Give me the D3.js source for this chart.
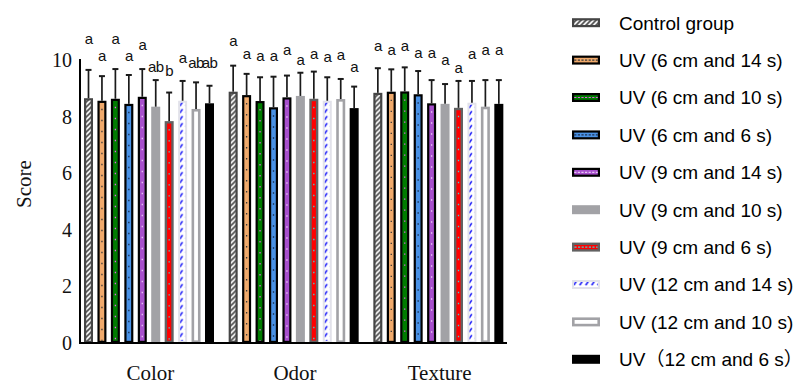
<!DOCTYPE html>
<html>
<head>
<meta charset="utf-8">
<script src="https://cdn.jsdelivr.net/npm/d3@7"></script>
<style>
  html, body { margin: 0; padding: 0; background: #fff; }
  svg { display: block; }
</style>
</head>
<body>
<svg id="chart" width="800" height="383"></svg>
<script>
// ---------------- data ----------------
const categories = ["Color", "Odor", "Texture"];
const seriesNames = [
  "Control group",
  "UV (6 cm and 14 s)",
  "UV (6 cm and 10 s)",
  "UV (6 cm and 6 s)",
  "UV (9 cm and 14 s)",
  "UV (9 cm and 10 s)",
  "UV (9 cm and 6 s)",
  "UV (12 cm and 14 s)",
  "UV (12 cm and 10 s)",
  "UV\uFF0812 cm and 6 s\uFF09"
];
// mean scores per series: [Color, Odor, Texture]
const meanControl = [8.65, 8.88, 8.84];
const meanUV6_14  = [8.56, 8.76, 8.88];
const meanUV6_10  = [8.63, 8.55, 8.89];
const meanUV6_6   = [8.45, 8.33, 8.79];
const meanUV9_14  = [8.70, 8.68, 8.47];
const meanUV9_10  = [8.35, 8.73, 8.45];
const meanUV9_6   = [7.84, 8.63, 8.31];
const meanUV12_14 = [8.56, 8.56, 8.49];
const meanUV12_10 = [8.27, 8.62, 8.35];
const meanUV12_6  = [8.47, 8.30, 8.45];
// standard deviations per series
const sdControl = [1.00, 0.92, 0.87];
const sdUV6_14  = [0.87, 0.75, 0.79];
const sdUV6_10  = [1.05, 0.84, 0.85];
const sdUV6_6   = [1.02, 1.08, 0.82];
const sdUV9_14  = [0.98, 0.77, 0.82];
const sdUV9_10  = [0.94, 0.82, 0.70];
const sdUV9_6   = [1.01, 0.96, 0.95];
const sdUV12_14 = [0.70, 0.83, 0.77];
const sdUV12_10 = [0.94, 0.71, 0.94];
const sdUV12_6  = [0.62, 0.76, 0.84];
// significance letters per category (one per series)
const lettersColor   = ["a", "a", "a", "a", "a", "ab", "b", "a", "ab", "ab"];
const lettersOdor    = ["a", "a", "a", "a", "a", "a", "a", "a", "a", "a"];
const lettersTexture = ["a", "a", "a", "a", "a", "a", "a", "a", "a", "a"];
// letter heights in score units
const letterYColor   = [10.71, 10.14, 10.71, 10.14, 10.53, 9.72, 9.58, 10.07, 9.86, 9.86];
const letterYOdor    = [10.65, 10.20, 10.12, 10.14, 10.32, 9.98, 10.20, 10.10, 10.15, 9.73];
const letterYTexture = [10.49, 10.33, 10.49, 10.24, 10.24, 9.98, 9.69, 10.20, 10.33, 10.33];
const yTicks = [0, 2, 4, 6, 8, 10];
const yLabel = "Score";

const means = [meanControl, meanUV6_14, meanUV6_10, meanUV6_6, meanUV9_14,
               meanUV9_10, meanUV9_6, meanUV12_14, meanUV12_10, meanUV12_6];
const sds = [sdControl, sdUV6_14, sdUV6_10, sdUV6_6, sdUV9_14,
             sdUV9_10, sdUV9_6, sdUV12_14, sdUV12_10, sdUV12_6];
const letters = [lettersColor, lettersOdor, lettersTexture];
const letterY = [letterYColor, letterYOdor, letterYTexture];

// ---------------- styles ----------------
const styles = [
  { fill: "#ffffff", stroke: "#454545", hatch: "#454545", sw: 2.2 },
  { fill: "#F0AA6C", stroke: "#000000", dots: "#3a3a3a", sw: 2.2 },
  { fill: "#007C00", stroke: "#000000", dots: "#e060e0", sw: 2.2 },
  { fill: "#4A92E6", stroke: "#000000", dots: "#1b3050", sw: 2.2 },
  { fill: "#A74FCC", stroke: "#000000", dots: "#e8c8f4", sw: 2.2 },
  { fill: "#A2A2A6", stroke: "#A2A2A6", sw: 2.2 },
  { fill: "#FF0000", stroke: "#626262", dots: "#40d0d0", sw: 2.4 },
  { fill: "#FFFFFF", stroke: "#E2E2EA", dash: "#1818F8", sw: 2.0 },
  { fill: "#FFFFFF", stroke: "#A2A2A6", sw: 2.6 },
  { fill: "#000000", stroke: "#000000", sw: 2.0 }
];

// ---------------- layout ----------------
const svg = d3.select("#chart");
const defs = svg.append("defs");

const y = d3.scaleLinear().domain([0, 10]).range([343, 60]);
const x0 = d3.scaleBand().domain(categories).range([78, 512]).paddingInner(0).paddingOuter(0);
const gOff = 6;
const x1 = d3.scaleBand().domain(d3.range(seriesNames.length))
  .range([gOff, gOff + 130]).paddingInner(0.33).paddingOuter(0);

let pid = 0;
function hatchPattern(px, py, color, bg, kind) {
  const id = "p" + (pid++);
  const p = defs.append("pattern").attr("id", id)
    .attr("patternUnits", "userSpaceOnUse")
    .attr("x", px).attr("y", py);
  if (kind === "hatch") {
    p.attr("width", 5).attr("height", 5);
    p.append("rect").attr("width", 5).attr("height", 5).attr("fill", bg);
    p.append("path").attr("d", "M-1,1 l2,-2 M0,5 l5,-5 M4,6 l2,-2")
      .attr("stroke", color).attr("stroke-width", 1.6);
  } else {
    p.attr("width", 6).attr("height", 7);
    p.append("rect").attr("width", 6).attr("height", 7).attr("fill", bg);
    p.append("path").attr("d", "M1.2,5.2 L3.9,1.4")
      .attr("stroke", color).attr("stroke-width", 1.6);
  }
  return "url(#" + id + ")";
}

function drawBox(g, bx, by, bw, bh, s, vertical) {
  const sw = s.sw;
  let fill = s.fill;
  if (s.hatch) fill = hatchPattern(bx + sw / 2, by, s.hatch, "#ffffff", "hatch");
  if (s.dash) fill = hatchPattern(bx + sw / 2 - 0.5, by, s.dash, "#ffffff", "dash");
  g.append("rect")
    .attr("x", bx + sw / 2).attr("y", by + sw / 2)
    .attr("width", Math.max(0, bw - sw)).attr("height", Math.max(0, bh - sw))
    .attr("fill", fill).attr("stroke", s.stroke).attr("stroke-width", sw);
  if (s.dots) {
    if (vertical) {
      g.append("line")
        .attr("x1", bx + bw / 2).attr("x2", bx + bw / 2)
        .attr("y1", by + 8).attr("y2", by + bh - sw)
        .attr("stroke", s.dots).attr("stroke-width", 1.3)
        .attr("stroke-dasharray", "1.4 9.6");
    } else {
      g.append("line")
        .attr("x1", bx + sw).attr("x2", bx + bw - sw)
        .attr("y1", by + bh / 2).attr("y2", by + bh / 2)
        .attr("stroke", s.dots).attr("stroke-width", 1.2)
        .attr("stroke-dasharray", "2.2 1.4");
    }
  }
}

// ---------------- bars ----------------
const plot = svg.append("g");
categories.forEach((cat, ci) => {
  seriesNames.forEach((sn, si) => {
    const v = means[si][ci];
    const bx = x0(cat) + x1(si);
    const bw = x1.bandwidth();
    const g = plot.append("g");
    drawBox(g, bx, y(v), bw, y(0) - y(v), styles[si], true);
  });
});

// error bars (upper)
categories.forEach((cat, ci) => {
  seriesNames.forEach((sn, si) => {
    const v = means[si][ci], e = sds[si][ci];
    const cx = x0(cat) + x1(si) + x1.bandwidth() / 2;
    plot.append("line")
      .attr("x1", cx).attr("x2", cx)
      .attr("y1", y(v)).attr("y2", y(v + e))
      .attr("stroke", "#1a1a1a").attr("stroke-width", 1.7);
    plot.append("line")
      .attr("x1", cx - 3).attr("x2", cx + 3)
      .attr("y1", y(v + e)).attr("y2", y(v + e))
      .attr("stroke", "#1a1a1a").attr("stroke-width", 2);
  });
});

// letters
categories.forEach((cat, ci) => {
  seriesNames.forEach((sn, si) => {
    const cx = x0(cat) + x1(si) + x1.bandwidth() / 2;
    svg.append("text")
      .attr("x", cx).attr("y", y(letterY[ci][si]) + 4.5)
      .attr("text-anchor", "middle")
      .attr("font-family", "'Liberation Sans', Arial, sans-serif")
      .attr("font-size", 15).attr("letter-spacing", -0.6).attr("fill", "#111")
      .text(letters[ci][si]);
  });
});

// ---------------- axes ----------------
const yAxis = svg.append("g").attr("transform", "translate(80,0)")
  .call(d3.axisLeft(y).tickValues(yTicks).tickSize(0).tickPadding(8).tickFormat(d3.format("d")));
yAxis.select(".domain").remove();
yAxis.selectAll("text")
  .attr("font-family", "'Liberation Serif', 'Times New Roman', serif")
  .attr("font-size", 20).attr("fill", "#111");

svg.append("line").attr("x1", 80).attr("x2", 80)
  .attr("y1", y(10) - 1).attr("y2", y(0) + 1)
  .attr("stroke", "#000").attr("stroke-width", 2);

const xAxis = svg.append("g").attr("transform", "translate(0," + y(0) + ")")
  .call(d3.axisBottom(x0).tickSize(0).tickPadding(22));
xAxis.select(".domain").remove();
xAxis.selectAll("text")
  .attr("font-family", "'Liberation Serif', 'Times New Roman', serif")
  .attr("font-size", 21).attr("fill", "#111");

svg.append("line").attr("x1", 79).attr("x2", 507)
  .attr("y1", y(0)).attr("y2", y(0))
  .attr("stroke", "#000").attr("stroke-width", 2);

svg.append("text")
  .attr("transform", "translate(31,184) rotate(-90)")
  .attr("text-anchor", "middle")
  .attr("font-family", "'Liberation Serif', 'Times New Roman', serif")
  .attr("font-size", 21).attr("fill", "#111")
  .text(yLabel);

// ---------------- legend ----------------
const legendY = d3.scaleLinear().domain([0, seriesNames.length - 1]).range([22.7, 359.3]);
seriesNames.forEach((sn, si) => {
  const cy = legendY(si);
  const g = svg.append("g");
  drawBox(g, 572, cy - 4.5, 28, 9, styles[si], false);
  svg.append("text")
    .attr("x", 619).attr("y", cy)
    .attr("dy", "0.36em")
    .attr("font-family", "'Liberation Sans', Arial, 'Noto Sans CJK SC', sans-serif")
    .attr("font-size", 19).attr("fill", "#000")
    .text(sn);
});
</script>
</body>
</html>
